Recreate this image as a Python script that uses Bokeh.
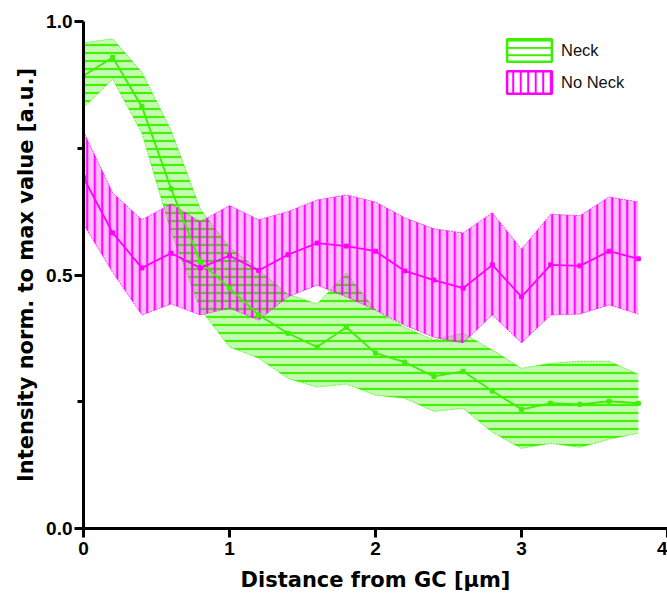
from bokeh.plotting import figure
from bokeh.models import FixedTicker, Legend, LegendItem, Range1d, PrintfTickFormatter
from bokeh.embed import file_html
from bokeh.resources import INLINE

# ---- data ----
distance = [0.0, 0.2, 0.4, 0.6, 0.8, 1.0, 1.2, 1.4, 1.6, 1.8,
            2.0, 2.2, 2.4, 2.6, 2.8, 3.0, 3.2, 3.4, 3.6, 3.8]

neck_mean = [0.893, 0.929, 0.832, 0.670, 0.526, 0.474, 0.421, 0.385, 0.358, 0.397,
             0.346, 0.328, 0.300, 0.310, 0.271, 0.235, 0.247, 0.245, 0.251, 0.247]
neck_upper = [0.958, 0.966, 0.900, 0.785, 0.630, 0.555, 0.510, 0.462, 0.443, 0.504,
              0.431, 0.397, 0.372, 0.385, 0.352, 0.316, 0.326, 0.330, 0.330, 0.304]
neck_lower = [0.830, 0.886, 0.780, 0.585, 0.433, 0.358, 0.336, 0.296, 0.279, 0.285,
              0.263, 0.257, 0.231, 0.237, 0.190, 0.158, 0.168, 0.160, 0.176, 0.188]

noneck_mean = [0.692, 0.583, 0.514, 0.543, 0.514, 0.538, 0.509, 0.540, 0.563, 0.557,
               0.547, 0.508, 0.490, 0.474, 0.520, 0.457, 0.520, 0.518, 0.547, 0.532]
noneck_upper = [0.783, 0.662, 0.609, 0.640, 0.605, 0.637, 0.609, 0.625, 0.648, 0.658,
                0.644, 0.613, 0.591, 0.583, 0.623, 0.551, 0.620, 0.617, 0.654, 0.644]
noneck_lower = [0.600, 0.505, 0.421, 0.443, 0.421, 0.435, 0.411, 0.457, 0.480, 0.457,
                0.431, 0.401, 0.377, 0.366, 0.421, 0.366, 0.421, 0.423, 0.441, 0.423]

series_labels = ["Neck", "No Neck"]
x_ticks = [0, 1, 2, 3, 4]
y_ticks = [0.0, 0.5, 1.0]
y_minor_ticks = [0.25, 0.75]
x_title = "Distance from GC [µm]"
y_title = "Intensity norm. to max value [a.u.]"

GREEN = "#3cf000"
MAGENTA = "#ff00ff"
NAN = float("nan")

p = figure(width=667, height=598, output_backend="svg", toolbar_location=None,
           x_range=Range1d(0, 4), y_range=Range1d(0, 1),
           min_border_left=83, min_border_right=0, min_border_top=21,
           min_border_bottom=70)
p.outline_line_color = None
p.grid.visible = False
p.background_fill_color = "white"

# ---- Neck band ----
p.varea(x=distance, y1=neck_lower, y2=neck_upper, fill_color=GREEN, fill_alpha=0.3,
        hatch_pattern="-", hatch_color=GREEN, hatch_weight=2.2, hatch_scale=8, hatch_alpha=0.95)
p.line(distance, neck_upper, line_color=GREEN, line_width=1, line_dash="2 1", line_alpha=0.7)
p.line(distance, neck_lower, line_color=GREEN, line_width=1, line_dash="2 1", line_alpha=0.7)

# ---- No Neck band ----
p.varea(x=distance, y1=noneck_lower, y2=noneck_upper, fill_color=MAGENTA, fill_alpha=0.25,
        hatch_pattern="|", hatch_color=MAGENTA, hatch_weight=2.2, hatch_scale=7.5, hatch_alpha=0.95)
p.line(distance, noneck_upper, line_color=MAGENTA, line_width=1, line_dash="2 1", line_alpha=0.7)
p.line(distance, noneck_lower, line_color=MAGENTA, line_width=1, line_dash="2 1", line_alpha=0.7)

# ---- mean lines ----
p.line(distance, neck_mean, line_color=GREEN, line_width=1.8)
p.scatter(distance, neck_mean, marker="square", size=4, color=GREEN)
p.line(distance, noneck_mean, line_color=MAGENTA, line_width=1.8)
p.scatter(distance, noneck_mean, marker="square", size=4, color=MAGENTA)

# ---- legend swatches (invisible placeholder renderers, NaN data) ----
leg_neck = p.patch(x=[NAN], y=[NAN], fill_color="white", fill_alpha=1, line_color=GREEN,
                   line_width=2.5, hatch_pattern="-", hatch_color=GREEN, hatch_weight=2,
                   hatch_scale=7.3)
leg_noneck = p.patch(x=[NAN], y=[NAN], fill_color="white", fill_alpha=1, line_color=MAGENTA,
                     line_width=2.5, hatch_pattern="|", hatch_color=MAGENTA, hatch_weight=2,
                     hatch_scale=7.5)
legend = Legend(items=[LegendItem(label=series_labels[0], renderers=[leg_neck]),
                       LegendItem(label=series_labels[1], renderers=[leg_noneck])],
                location=(418, 432), glyph_width=56, glyph_height=28, label_standoff=4,
                spacing=4, padding=0, margin=0, border_line_alpha=0,
                background_fill_alpha=0, label_text_font="Liberation Sans",
                label_text_font_size="16.5px", label_text_color="#111111")
p.add_layout(legend)

# ---- axes ----
p.xaxis.ticker = FixedTicker(ticks=x_ticks, minor_ticks=[])
p.yaxis.ticker = FixedTicker(ticks=y_ticks, minor_ticks=y_minor_ticks)
p.xaxis.formatter = PrintfTickFormatter(format="%d")
p.yaxis.formatter = PrintfTickFormatter(format="%.1f")
p.xaxis.axis_label = x_title
p.yaxis.axis_label = y_title
for ax in (p.xaxis, p.yaxis):
    ax.axis_line_width = 3
    ax.axis_line_color = "black"
    ax.major_tick_line_width = 3
    ax.major_tick_line_color = "black"
    ax.major_tick_out = 9
    ax.major_tick_in = 0
    ax.minor_tick_line_width = 3
    ax.minor_tick_line_color = "black"
    ax.minor_tick_out = 6
    ax.minor_tick_in = 0
    ax.major_label_text_font = "Liberation Sans"
    ax.major_label_text_font_style = "bold"
    ax.major_label_text_font_size = "19px"
    ax.major_label_text_color = "black"
    ax.axis_label_text_font = "DejaVu Sans"
    ax.axis_label_text_font_style = "bold"
    ax.axis_label_text_font_size = "21px"
    ax.axis_label_text_color = "black"
p.xaxis.major_label_standoff = 4
p.yaxis.major_label_standoff = 2
p.xaxis.axis_label_standoff = 10
p.yaxis.axis_label_standoff = 5

open("out.html", "w").write(file_html(p, INLINE))
